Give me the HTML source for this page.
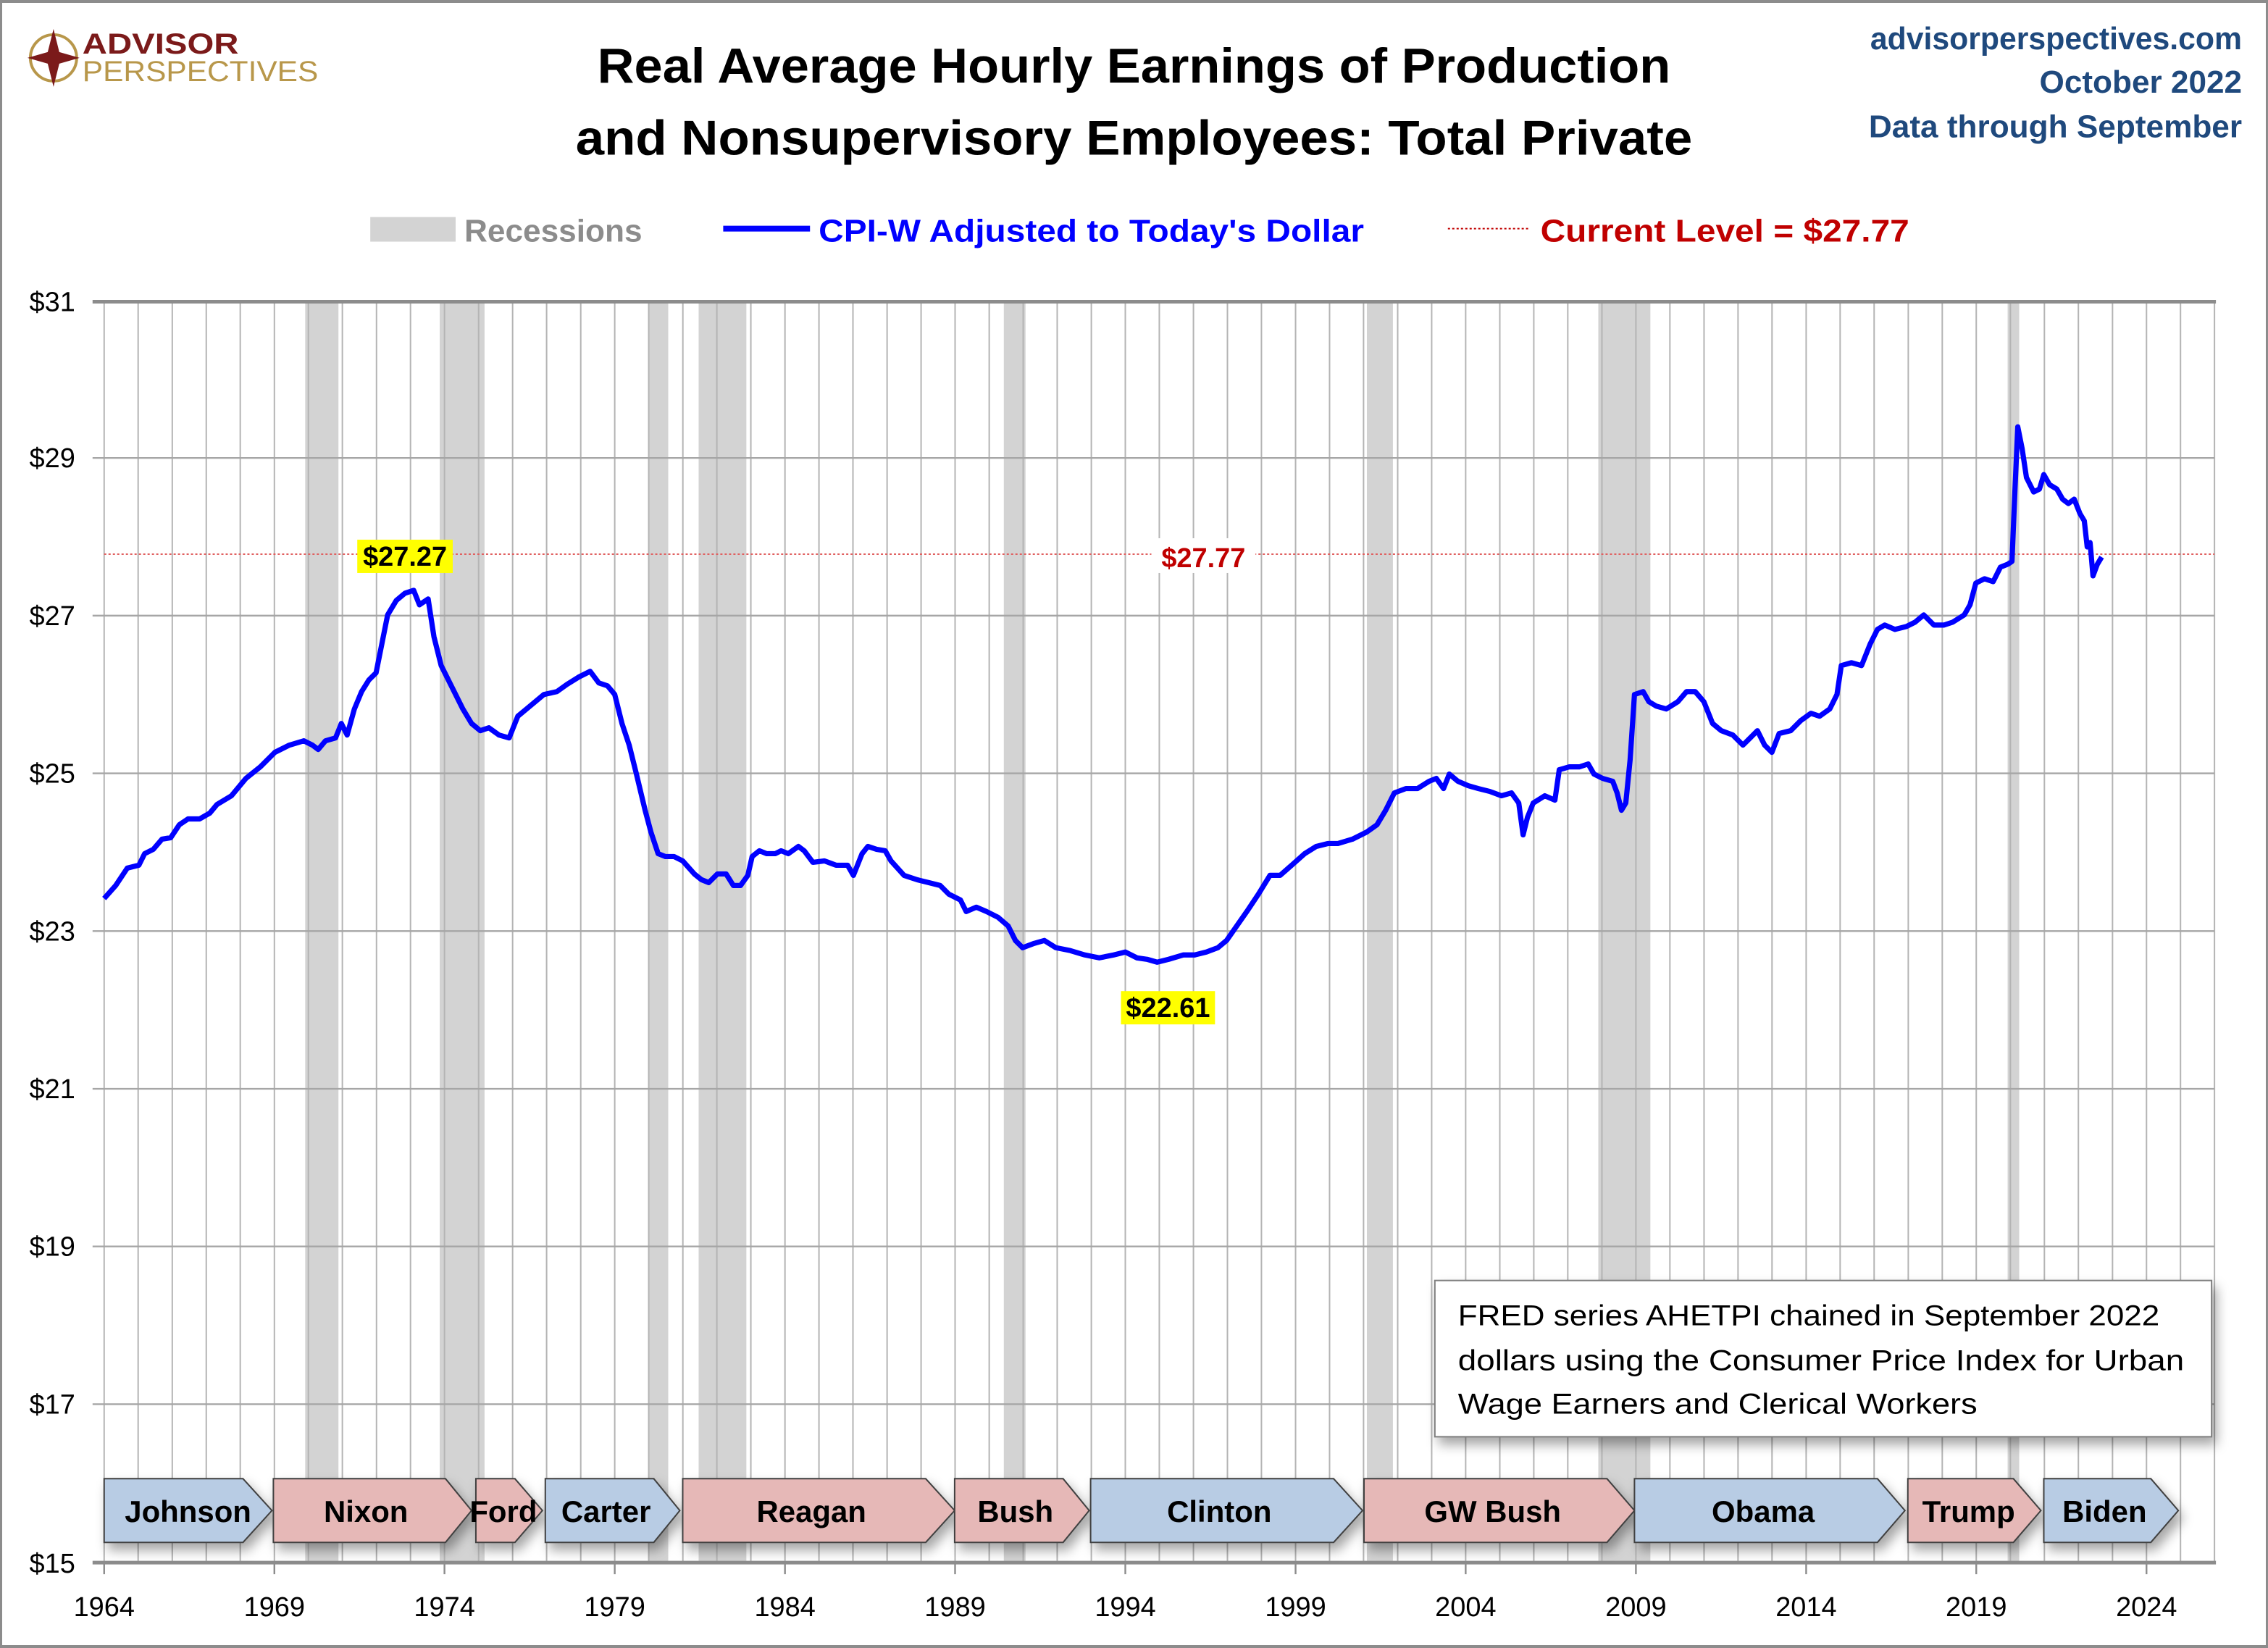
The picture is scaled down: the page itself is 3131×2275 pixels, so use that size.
<!DOCTYPE html>
<html><head><style>html,body{margin:0;padding:0;background:#fff}svg{display:block}</style></head><body>
<svg width="3131" height="2275" viewBox="0 0 1568 1139" preserveAspectRatio="none" xmlns="http://www.w3.org/2000/svg" font-family="Liberation Sans, sans-serif">
<defs>
<filter id="sh" x="-10%" y="-10%" width="130%" height="160%"><feDropShadow dx="3" dy="5" stdDeviation="4" flood-color="#000" flood-opacity="0.35"/></filter>
</defs>
<rect x="0" y="0" width="1568" height="1139" fill="#fff"/>
<rect x="0.5" y="1" width="1567" height="1137" fill="none" stroke="#8c8c8c" stroke-width="2"/>
<!-- recessions -->
<g fill="#d3d3d3">
<rect x="211" y="209" width="23" height="871"/>
<rect x="304" y="209" width="31" height="871"/>
<rect x="448" y="209" width="14" height="871"/>
<rect x="483" y="209" width="33" height="871"/>
<rect x="694" y="209" width="15" height="871"/>
<rect x="945" y="209" width="18" height="871"/>
<rect x="1105" y="209" width="36" height="871"/>
<rect x="1388" y="209" width="8" height="871"/>
</g>
<!-- vertical grid -->
<path fill="none" stroke="#b4b4b4" stroke-width="1" d="M72,209V1080M95.5,209V1080M119.1,209V1080M142.6,209V1080M166.1,209V1080M189.7,209V1080M213.2,209V1080M236.7,209V1080M260.3,209V1080M283.8,209V1080M307.3,209V1080M330.9,209V1080M354.4,209V1080M377.9,209V1080M401.5,209V1080M425,209V1080M448.5,209V1080M472.1,209V1080M495.6,209V1080M519.1,209V1080M542.7,209V1080M566.2,209V1080M589.7,209V1080M613.3,209V1080M636.8,209V1080M660.3,209V1080M683.9,209V1080M707.4,209V1080M730.9,209V1080M754.5,209V1080M778,209V1080M801.5,209V1080M825.1,209V1080M848.6,209V1080M872.1,209V1080M895.7,209V1080M919.2,209V1080M942.7,209V1080M966.3,209V1080M989.8,209V1080M1013.3,209V1080M1036.9,209V1080M1060.4,209V1080M1083.9,209V1080M1107.5,209V1080M1131,209V1080M1154.5,209V1080M1178.1,209V1080M1201.6,209V1080M1225.1,209V1080M1248.7,209V1080M1272.2,209V1080M1295.7,209V1080M1319.3,209V1080M1342.8,209V1080M1366.3,209V1080M1389.9,209V1080M1413.4,209V1080M1436.9,209V1080M1460.5,209V1080M1484,209V1080M1507.5,209V1080M1531,209V1080"/>
<!-- horizontal grid -->
<g stroke="#a6a6a6" stroke-width="1.2">
<line x1="64" y1="316.5" x2="1531" y2="316.5"/>
<line x1="64" y1="425.5" x2="1531" y2="425.5"/>
<line x1="64" y1="534.5" x2="1531" y2="534.5"/>
<line x1="64" y1="643.5" x2="1531" y2="643.5"/>
<line x1="64" y1="752.5" x2="1531" y2="752.5"/>
<line x1="64" y1="861.5" x2="1531" y2="861.5"/>
<line x1="64" y1="970.5" x2="1531" y2="970.5"/>
</g>
<line x1="64" y1="208.5" x2="1532" y2="208.5" stroke="#8c8c8c" stroke-width="2.5"/>
<line x1="64" y1="1080" x2="1532" y2="1080" stroke="#8c8c8c" stroke-width="2.5"/>
<!-- x ticks -->
<g stroke="#8c8c8c" stroke-width="1.2">
<line x1="72" y1="1080" x2="72" y2="1088"/><line x1="189.7" y1="1080" x2="189.7" y2="1088"/><line x1="307.3" y1="1080" x2="307.3" y2="1088"/><line x1="425" y1="1080" x2="425" y2="1088"/><line x1="542.7" y1="1080" x2="542.7" y2="1088"/><line x1="660.3" y1="1080" x2="660.3" y2="1088"/><line x1="778" y1="1080" x2="778" y2="1088"/><line x1="895.7" y1="1080" x2="895.7" y2="1088"/><line x1="1013.3" y1="1080" x2="1013.3" y2="1088"/><line x1="1131" y1="1080" x2="1131" y2="1088"/><line x1="1248.7" y1="1080" x2="1248.7" y2="1088"/><line x1="1366.3" y1="1080" x2="1366.3" y2="1088"/><line x1="1484" y1="1080" x2="1484" y2="1088"/>
</g>
<g font-size="19" fill="#000" text-anchor="middle">
<text x="72" y="1117">1964</text><text x="189.7" y="1117">1969</text><text x="307.3" y="1117">1974</text><text x="425" y="1117">1979</text><text x="542.7" y="1117">1984</text><text x="660.3" y="1117">1989</text><text x="778" y="1117">1994</text><text x="895.7" y="1117">1999</text><text x="1013.3" y="1117">2004</text><text x="1131" y="1117">2009</text><text x="1248.7" y="1117">2014</text><text x="1366.3" y="1117">2019</text><text x="1484" y="1117">2024</text>
</g>
<g font-size="19" fill="#000" text-anchor="end">
<text x="52" y="215">$31</text><text x="52" y="323">$29</text><text x="52" y="432">$27</text><text x="52" y="541">$25</text><text x="52" y="650">$23</text><text x="52" y="759">$21</text><text x="52" y="868">$19</text><text x="52" y="977">$17</text><text x="52" y="1087">$15</text>
</g>
<!-- current level line -->
<line x1="72" y1="383" x2="1531" y2="383" stroke="#e06060" stroke-width="1" stroke-dasharray="1.5,1.5"/>
<rect x="796" y="372" width="72" height="24" fill="#fff"/>
<text x="832" y="392" font-size="19" font-weight="bold" fill="#c00000" text-anchor="middle">$27.77</text>
<!-- series -->
<polyline fill="none" stroke="#0000ff" stroke-width="3.6" stroke-linejoin="round" points="72,621 80,612 88,600 96,598 100,590 106,587 112,580 118,579 124,570 130,566 138,566 145,562 150,556 160,550 170,538 180,530 190,520 200,515 210,512 216,515 220,518 225,512 232,510 236,500 240,508 245,490 250,478 255,470 260,465 265,440 268,425 274,415 280,410 286,408 290,418 296,414 300,440 305,460 310,470 315,480 320,490 326,500 332,505 338,503 345,508 352,510 358,495 364,490 370,485 376,480 385,478 392,473 400,468 408,464 414,472 420,474 425,480 430,500 435,515 440,535 446,560 450,575 455,590 460,592 466,592 472,595 480,604 485,608 490,610 496,604 502,604 507,612 512,612 517,605 520,592 525,588 530,590 536,590 540,588 545,590 552,585 556,588 562,596 570,595 578,598 586,598 590,605 596,590 600,585 606,587 612,588 616,595 625,605 634,608 642,610 650,612 656,618 664,622 668,630 675,627 682,630 690,634 697,640 702,650 707,655 715,652 722,650 730,655 740,657 750,660 760,662 770,660 778,658 786,662 793,663 800,665 808,663 818,660 826,660 834,658 842,655 848,650 855,640 862,630 870,618 878,605 885,605 893,598 902,590 910,585 918,583 925,583 935,580 945,575 952,570 958,560 964,548 972,545 980,545 988,540 993,538 998,545 1002,535 1008,540 1015,543 1022,545 1030,547 1038,550 1045,548 1050,555 1053,577 1056,565 1060,555 1068,550 1075,553 1078,532 1085,530 1092,530 1098,528 1102,535 1108,538 1115,540 1118,548 1121,560 1124,555 1127,525 1130,480 1136,478 1140,485 1145,488 1152,490 1160,485 1166,478 1172,478 1178,485 1184,500 1190,505 1198,508 1205,515 1210,510 1215,505 1220,515 1225,520 1230,507 1238,505 1245,498 1252,493 1258,495 1265,490 1270,480 1273,460 1280,458 1287,460 1293,445 1298,435 1303,432 1310,435 1318,433 1324,430 1330,425 1337,432 1344,432 1350,430 1358,425 1362,418 1366,403 1372,400 1378,402 1383,392 1388,390 1391,388 1393,340 1395,295 1398,310 1401,330 1406,340 1410,338 1413,328 1417,335 1422,338 1426,345 1430,348 1434,345 1438,355 1441,360 1443,378 1445,375 1447,398 1450,390 1453,385"/>
<!-- callouts -->
<rect x="247" y="373" width="66" height="23" fill="#ffff00"/>
<text x="280" y="391" font-size="19" font-weight="bold" text-anchor="middle">$27.27</text>
<rect x="775" y="685" width="65" height="23" fill="#ffff00"/>
<text x="807.5" y="703" font-size="19" font-weight="bold" text-anchor="middle">$22.61</text>
<!-- note box -->
<rect x="992" y="885" width="537" height="108" fill="#fff" stroke="#7f7f7f" stroke-width="1" filter="url(#sh)"/>
<g font-size="20" fill="#000">
<text x="1008" y="916" textLength="485" lengthAdjust="spacingAndGlyphs">FRED series AHETPI chained in September 2022</text>
<text x="1008" y="947" textLength="502" lengthAdjust="spacingAndGlyphs">dollars using the Consumer Price Index for Urban</text>
<text x="1008" y="977" textLength="359" lengthAdjust="spacingAndGlyphs">Wage Earners and Clerical Workers</text>
</g>
<!-- presidents -->
<g stroke="#404040" stroke-width="1" filter="url(#sh)">
<polygon points="72,1022 168,1022 188,1044 168,1066 72,1066" fill="#b8cce4"/>
<polygon points="189,1022 308,1022 326,1044 308,1066 189,1066" fill="#e6b8b7"/>
<polygon points="329,1022 356,1022 375,1044 356,1066 329,1066" fill="#e6b8b7"/>
<polygon points="377,1022 452,1022 470,1044 452,1066 377,1066" fill="#b8cce4"/>
<polygon points="472,1022 640,1022 660,1044 640,1066 472,1066" fill="#e6b8b7"/>
<polygon points="660,1022 735,1022 753,1044 735,1066 660,1066" fill="#e6b8b7"/>
<polygon points="754,1022 922,1022 942,1044 922,1066 754,1066" fill="#b8cce4"/>
<polygon points="943,1022 1111,1022 1130,1044 1111,1066 943,1066" fill="#e6b8b7"/>
<polygon points="1130,1022 1298,1022 1317,1044 1298,1066 1130,1066" fill="#b8cce4"/>
<polygon points="1319,1022 1392,1022 1411,1044 1392,1066 1319,1066" fill="#e6b8b7"/>
<polygon points="1413,1022 1487,1022 1506,1044 1487,1066 1413,1066" fill="#b8cce4"/>
</g>
<g font-size="21" font-weight="bold" fill="#000" text-anchor="middle">
<text x="130" y="1052">Johnson</text><text x="253" y="1052">Nixon</text><text x="348" y="1052">Ford</text><text x="419" y="1052">Carter</text><text x="561" y="1052">Reagan</text><text x="702" y="1052">Bush</text><text x="843" y="1052">Clinton</text><text x="1032" y="1052">GW Bush</text><text x="1219" y="1052">Obama</text><text x="1361" y="1052">Trump</text><text x="1455" y="1052">Biden</text>
</g>
<!-- title -->
<g font-weight="bold" fill="#000" text-anchor="middle" font-size="34">
<text x="784" y="57" textLength="742" lengthAdjust="spacingAndGlyphs">Real Average Hourly Earnings of Production</text>
<text x="784" y="107" textLength="772" lengthAdjust="spacingAndGlyphs">and Nonsupervisory Employees: Total Private</text>
</g>
<g font-weight="bold" fill="#1f497d" text-anchor="end" font-size="22">
<text x="1550" y="34" textLength="257" lengthAdjust="spacingAndGlyphs">advisorperspectives.com</text>
<text x="1550" y="64" textLength="140" lengthAdjust="spacingAndGlyphs">October 2022</text>
<text x="1550" y="95" textLength="258" lengthAdjust="spacingAndGlyphs">Data through September</text>
</g>
<!-- legend -->
<rect x="256" y="150" width="59" height="17" fill="#d3d3d3"/>
<text x="321" y="167" font-size="22" font-weight="bold" fill="#8c8c8c" textLength="123" lengthAdjust="spacingAndGlyphs">Recessions</text>
<line x1="500" y1="158" x2="560" y2="158" stroke="#0000ff" stroke-width="4"/>
<text x="566" y="167" font-size="22" font-weight="bold" fill="#0000ff" textLength="377" lengthAdjust="spacingAndGlyphs">CPI-W Adjusted to Today's Dollar</text>
<line x1="1001" y1="158" x2="1058" y2="158" stroke="#c00000" stroke-width="1" stroke-dasharray="1.5,1.5"/>
<text x="1065" y="167" font-size="22" font-weight="bold" fill="#c00000" textLength="255" lengthAdjust="spacingAndGlyphs">Current Level = $27.77</text>
<!-- logo -->
<circle cx="37" cy="40" r="16" fill="none" stroke="#b8974a" stroke-width="2"/>
<polygon points="37,20 41,36 55,40 41,44 37,60 33,44 19,40 33,36" fill="#7b1a1a"/>
<text x="57" y="37" font-size="20" font-weight="bold" fill="#7b1a1a" textLength="108" lengthAdjust="spacingAndGlyphs">ADVISOR</text>
<text x="57" y="56" font-size="20" fill="#b8974a" textLength="163" lengthAdjust="spacingAndGlyphs">PERSPECTIVES</text>
</svg>
</body></html>
